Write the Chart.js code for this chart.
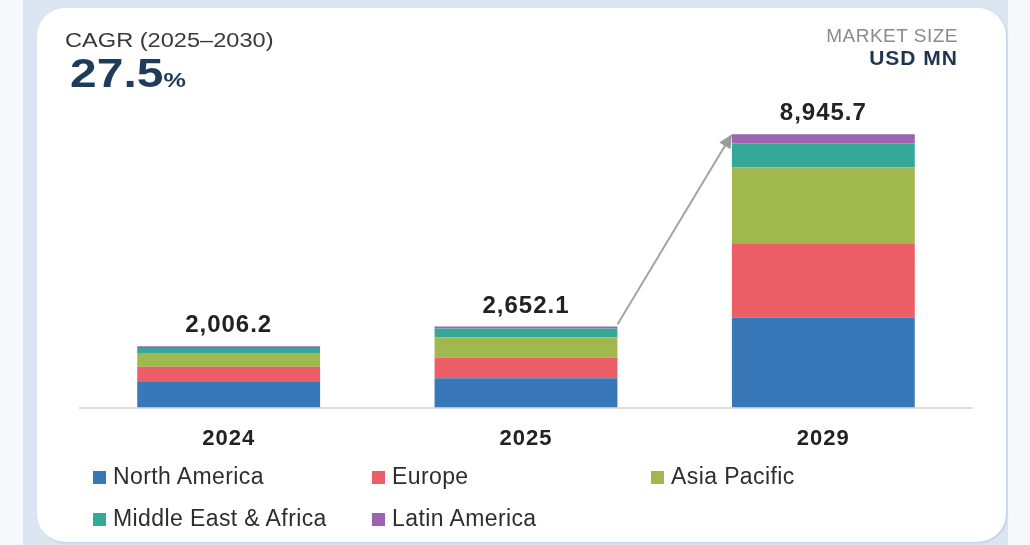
<!DOCTYPE html>
<html>
<head>
<meta charset="utf-8">
<script src="https://cdn.jsdelivr.net/npm/chart.js@4.4.1/dist/chart.umd.min.js"></script>
<style>
  html, body { margin: 0; padding: 0; }
  body { width: 1030px; height: 545px; background: #f6f8fb; position: relative; overflow: hidden; font-family: "Liberation Sans", Arial, sans-serif; }
  #frame { position: absolute; left: 23px; top: 0; width: 985px; height: 545px; background: #dce6f2; }
  #card { position: absolute; left: 37px; top: 8px; width: 969px; height: 534px; background: #fff; border-radius: 28px; box-shadow: 1px 1px 2px rgba(150,175,210,0.5); }
  #chart-wrap { position: absolute; left: 0; top: 0; width: 1030px; height: 545px; }
  .txt { position: absolute; white-space: nowrap; }
  #cagr-label { left: 65px; top: 29px; font-size: 20px; color: #3a3a3a; transform: scaleX(1.18); transform-origin: left top; }
  #cagr-value { left: 70px; top: 51px; font-size: 40px; font-weight: bold; color: #1f3b5c; transform: scaleX(1.2); transform-origin: left top; }
  #cagr-value span { font-size: 21px; }
  #unit-label { right: 72px; top: 25px; font-size: 19px; color: #8a8a8a; letter-spacing: 0.5px; }
  #unit-value { right: 72px; top: 46px; font-size: 21px; font-weight: bold; color: #1e3552; letter-spacing: 1px; }
  #legend { position: absolute; left: 93px; top: 455px; display: grid; grid-template-columns: 279px 279px 279px; grid-auto-rows: 42px; }
  .item { display: flex; align-items: center; font-size: 23px; color: #2e2e2e; letter-spacing: 0.4px; }
  .box { width: 13px; height: 13px; margin-right: 7px; margin-top: 2px; }
</style>
</head>
<body>
<div id="frame"></div>
<div id="card"></div>
<div id="chart-wrap"><canvas id="marketChart" width="1030" height="545"></canvas></div>
<div class="txt" id="cagr-label">CAGR (2025–2030)</div>
<div class="txt" id="cagr-value">27.5<span>%</span></div>
<div class="txt" id="unit-label">MARKET SIZE</div>
<div class="txt" id="unit-value">USD MN</div>
<div id="legend"></div>
<script>
"use strict";
const years = ["2024", "2025", "2029"];
const northAmerica = [860.6, 960.4, 2951.4];
const europe = [474.9, 678.9, 2425.8];
const asiaPacific = [424.4, 658.9, 2481.3];
const middleEastAfrica = [186.9, 289.0, 783.6];
const latinAmerica = [59.4, 64.9, 303.6];
const regionNames = ["North America", "Europe", "Asia Pacific", "Middle East & Africa", "Latin America"];
const regionColors = ["#3878b8", "#ec5e68", "#a1b84f", "#35a897", "#9b63b0"];

document.addEventListener("DOMContentLoaded", () => {
    const series = [northAmerica, europe, asiaPacific, middleEastAfrica, latinAmerica];
    const totals = years.map((y, i) => series.reduce((s, arr) => s + arr[i], 0));

    // wider letters, the source picture is a bit stretched
    const spacingPlugin = {
        id: "spacing",
        beforeUpdate(chart) { chart.ctx.letterSpacing = "1px"; },
        beforeDraw(chart) { chart.ctx.letterSpacing = "1px"; },
    };

    const totalsPlugin = {
        id: "totals",
        afterDatasetsDraw(chart) {
            const ctx = chart.ctx;
            const top = chart.getDatasetMeta(series.length - 1);
            ctx.save();
            ctx.font = "bold 24px 'Liberation Sans', Arial, sans-serif";
            ctx.fillStyle = "#222";
            ctx.textAlign = "center";
            ctx.textBaseline = "alphabetic";
            top.data.forEach((bar, i) => {
                const label = totals[i].toLocaleString("en-US", { minimumFractionDigits: 1, maximumFractionDigits: 1 });
                ctx.fillText(label, bar.x, bar.y - 14);
            });

            // growth arrow from 2025 to 2029
            const a = top.data[1];
            const b = top.data[2];
            const x1 = a.x + a.width / 2, y1 = a.y - 2;
            const x2 = b.x - b.width / 2, y2 = b.y;
            const ang = Math.atan2(y2 - y1, x2 - x1);
            const head = 15;
            ctx.strokeStyle = "#a3a3a3";
            ctx.fillStyle = "#9a9a9a";
            ctx.lineWidth = 2;
            ctx.beginPath();
            ctx.moveTo(x1, y1);
            ctx.lineTo(x2 - Math.cos(ang) * head * 0.8, y2 - Math.sin(ang) * head * 0.8);
            ctx.stroke();
            ctx.beginPath();
            ctx.moveTo(x2, y2);
            ctx.lineTo(x2 - head * Math.cos(ang - 0.45), y2 - head * Math.sin(ang - 0.45));
            ctx.lineTo(x2 - head * Math.cos(ang + 0.45), y2 - head * Math.sin(ang + 0.45));
            ctx.closePath();
            ctx.fill();
            ctx.restore();
        },
    };

    const ctx = document.getElementById("marketChart").getContext("2d");
    const chart = new Chart(ctx, {
        type: "bar",
        data: {
            labels: years,
            datasets: series.map((arr, k) => ({
                label: regionNames[k],
                data: arr,
                backgroundColor: regionColors[k],
                borderWidth: 0,
                barPercentage: 0.615,
                categoryPercentage: 1,
            })),
        },
        options: {
            responsive: false,
            animation: false,
            layout: { padding: { left: 80, right: 58, top: 102, bottom: 75 } },
            plugins: {
                legend: { display: false },
                tooltip: { enabled: false },
            },
            scales: {
                x: {
                    stacked: true,
                    grid: { display: false, drawTicks: false },
                    border: { display: true, color: "#dedede", width: 2 },
                    ticks: {
                        padding: 18,
                        color: "#222",
                        font: { family: "'Liberation Sans', Arial, sans-serif", size: 22, weight: "bold" },
                    },
                },
                y: {
                    stacked: true,
                    display: false,
                    min: 0,
                    max: 10000,
                },
            },
        },
        plugins: [spacingPlugin, totalsPlugin],
    });

    // legend in the same 3 column grid as the source
    const legend = document.getElementById("legend");
    chart.data.datasets.forEach((ds) => {
        const item = document.createElement("div");
        item.className = "item";
        const box = document.createElement("span");
        box.className = "box";
        box.style.background = ds.backgroundColor;
        item.appendChild(box);
        item.appendChild(document.createTextNode(ds.label));
        legend.appendChild(item);
    });
});
</script>
</body>
</html>
